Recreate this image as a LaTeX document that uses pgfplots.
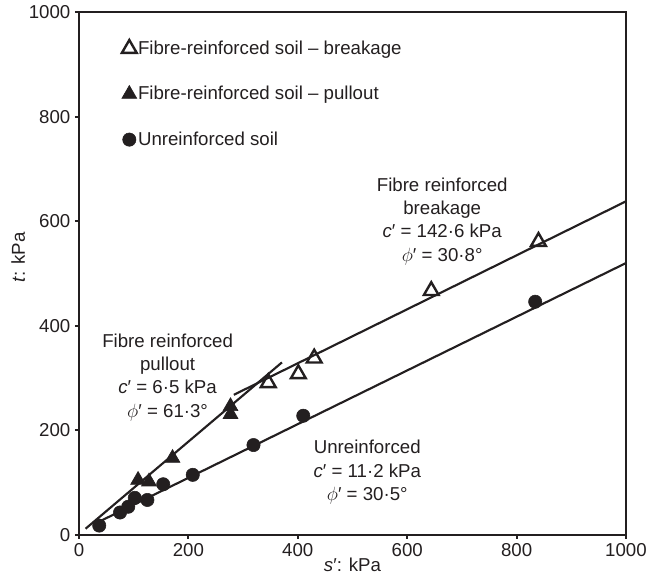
\documentclass[border=0pt]{standalone}
\usepackage{fontspec}
\setmainfont{Liberation Sans}
\usepackage{pgfplots}
\pgfplotsset{compat=1.18}
\definecolor{ink}{HTML}{231F20}

\begin{document}
\begin{tikzpicture}[font=\fontsize{14}{17.5}\selectfont, color=ink]
\useasboundingbox (-59.25pt,-32.25pt) rectangle (436.5pt,401.25pt);
\begin{axis}[
    at={(0,0)}, anchor=south west,
    scale only axis,
    width=410.25pt, height=392.25pt,
    xmin=0, xmax=1000, ymin=0, ymax=1000,
    xtick={0,200,...,1000}, ytick={0,200,...,1000},
    xtick pos=bottom, ytick pos=left,
    tick align=outside, major tick length=3pt,
    axis line style={line width=2pt, ink},
    every tick/.style={line width=1.5pt, ink},
    /pgf/number format/assume math mode=true,
    /pgf/number format/1000 sep={},
    ticklabel style={font=\fontsize{14}{16.5}\selectfont, ink},
    xlabel={\textit{s}′: kPa},
    ylabel={\textit{t}: kPa},
    xlabel style={yshift=6pt},
    ylabel style={yshift=-4pt, xshift=12pt},
    legend style={at={(axis cs:78,948)}, anchor=north west, draw=none, fill=none,
        row sep=20.5pt, font=\fontsize{14}{16.5}\selectfont, inner sep=0pt,
        nodes={inner sep=1pt}},
    legend cell align=left,
    legend image code/.code={\draw[mark repeat=2,mark phase=2,#1] plot coordinates {(0cm,0cm) (0.22cm,0cm) (0.6cm,0cm)};},
]
% measured points
\addplot[only marks, mark=triangle, mark size=6.4pt, mark options={line width=1.8pt, ink, fill=white}] coordinates {
    (346,291) (401,308) (430,338) (644,467) (840,561)
};
\addlegendentry{Fibre-reinforced soil – breakage}
\addplot[only marks, mark=triangle*, mark size=6.4pt, mark options={line width=0.5pt, draw=ink, fill=ink}] coordinates {
    (108,105) (128,102) (171,147) (277,246) (277,231)
};
\addlegendentry{Fibre-reinforced soil – pullout}
\addplot[only marks, mark=*, mark size=5pt, mark options={draw=ink, fill=ink}] coordinates {
    (37,18) (75,43) (90,54) (102,71) (125,67) (154,97) (208,115) (319,172) (410,228) (834,446)
};
\addlegendentry{Unreinforced soil}

% failure envelopes
\addplot[line width=1.6pt, ink, forget plot] coordinates {(12,12) (371,330)};
\addplot[line width=1.6pt, ink, forget plot] coordinates {(283,268) (1000,638)};
\addplot[line width=1.6pt, ink, forget plot] coordinates {(30,22) (1000,520)};

\node[align=center, anchor=north] at (axis cs:664,692) {Fibre reinforced\\breakage\\\textit{c}′ = 142·6 kPa\\$\phi$′ = 30·8°};
\node[align=center, anchor=north] at (axis cs:162,394) {Fibre reinforced\\pullout\\\textit{c}′ = 6·5 kPa\\$\phi$′ = 61·3°};
\node[align=center, anchor=north] at (axis cs:527,190) {Unreinforced\\\textit{c}′ = 11·2 kPa\\$\phi$′ = 30·5°};
\end{axis}
\end{tikzpicture}
\end{document}
